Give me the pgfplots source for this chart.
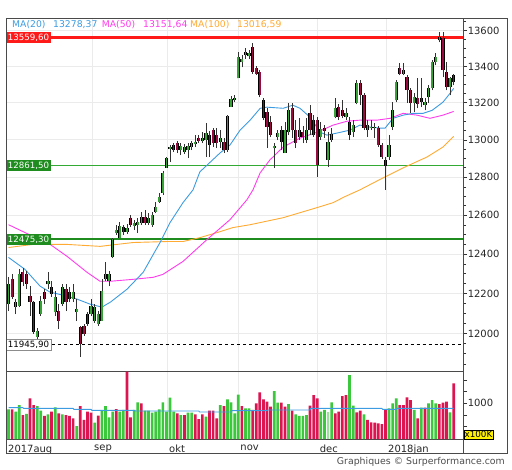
\documentclass[border=0pt]{standalone}
\usepackage{fontspec}
\setmainfont{DejaVu Sans}
\usepackage{pgfplots}
\pgfplotsset{compat=1.18}
\definecolor{candG}{HTML}{36A336}
\definecolor{candR}{HTML}{9A0A40}
\definecolor{volG}{HTML}{3CC83C}
\definecolor{volGl}{HTML}{9ADF9A}
\definecolor{volR}{HTML}{DC1450}
\definecolor{maA}{HTML}{3C9BE1}
\definecolor{maB}{HTML}{FF3CEB}
\definecolor{maC}{HTML}{FFAA32}
\definecolor{gridC}{HTML}{EBEBEB}
\definecolor{frameC}{HTML}{4A4A4A}
\definecolor{lvlG}{HTML}{1E8C1E}
\definecolor{lvlGl}{HTML}{33AA33}
\definecolor{lvlR}{HTML}{FF1A1A}
\newcommand{\tf}{\fontsize{10}{12}\selectfont}
\newcommand{\lf}{\fontsize{8.7}{10}\selectfont}
\newcommand{\gf}{\fontsize{9.3}{11}\selectfont}
% daily candles: index/open/high/low/close
\def\candles{0/12146/12281/12111/12246, 1/12271/12296/12171/12181, 2/12131/12171/12096/12156, 3/12136/12321/12131/12296,
4/12306/12331/12236/12256, 5/12296/12311/12221/12246, 6/12186/12236/12086/12156, 7/12156/12161/11998/12007,
8/11983/12027/11973/12012, 9/12096/12186/12086/12161, 10/12206/12221/12146/12171, 11/12246/12306/12221/12261,
12/12231/12261/12181/12196, 13/12106/12211/12086/12181, 14/12111/12146/12022/12061, 15/12146/12246/12136/12231,
16/12221/12246/12111/12156, 17/12206/12231/12156/12171, 18/12171/12246/12156/12206, 19/12106/12171/12061/12121,
20/12032/12037/11885/11946, 21/12037/12047/11988/11998, 22/12096/12106/12037/12047, 23/12096/12171/12086/12136,
24/12061/12146/12052/12131, 25/12047/12111/12037/12096, 26/12061/12271/12061/12211, 27/12271/12357/12261/12296,
28/12261/12311/12236/12296, 29/12383/12484/12378/12475, 30/12510/12551/12500/12525, 31/12484/12567/12484/12546,
32/12541/12551/12500/12515, 33/12515/12556/12505/12536, 34/12587/12603/12541/12551, 35/12546/12577/12525/12562,
36/12551/12587/12510/12567, 37/12562/12619/12551/12593, 38/12593/12629/12551/12562, 39/12562/12613/12551/12587,
40/12551/12619/12541/12603, 41/12619/12671/12613/12645, 42/12671/12717/12666/12697, 43/12717/12833/12707/12823,
44/12849/12907/12849/12901, 45/12949/12971/12880/12960, 46/12971/12981/12933/12944, 47/12981/12992/12928/12944,
48/12944/12981/12917/12965, 49/12933/12976/12923/12960, 50/12944/12981/12901/12965, 51/12960/12992/12944/12981,
52/12976/13024/12960/12987, 53/13008/13024/12981/12992, 54/12992/13040/12981/13008, 55/12997/13089/12907/13035,
56/13024/13046/12907/12971, 57/13051/13062/12960/12981, 58/13024/13062/12955/12981, 59/12987/13051/12955/13008,
60/12987/13008/12928/12944, 61/12944/13132/12933/13126, 62/13175/13235/13175/13218, 63/13213/13240/13202/13224,
64/13333/13477/13333/13449, 65/13421/13460/13394/13443, 66/13460/13499/13443/13477, 67/13454/13488/13443/13471,
68/13505/13527/13360/13366, 69/13388/13399/13350/13360, 70/13366/13377/13229/13240, 71/13213/13224/13105/13115,
72/13147/13169/12955/13067, 73/13094/13126/13013/13024, 74/12955/12981/12849/12965, 75/13013/13051/12997/13035,
76/13051/13073/12944/12987, 77/12928/13094/12928/13051, 78/13040/13197/13024/13158, 79/13169/13197/13008/13051,
80/13051/13105/12955/12981, 81/13013/13115/12997/13051, 82/13040/13073/12981/13013, 83/12997/13115/12981/13051,
84/13142/13186/13024/13051, 85/13105/13132/13013/13024, 86/13105/13121/12801/12862, 87/13013/13094/12997/13056,
88/13062/13078/13008/13046, 89/12891/13040/12854/12987, 90/12997/13062/12987/13030, 91/13121/13224/13115/13169,
92/13175/13191/13105/13121, 93/13158/13213/13115/13126, 94/13121/13169/13105/13142, 95/13094/13121/12997/13024,
96/13040/13105/13013/13078, 97/13197/13322/13191/13306, 98/13306/13322/13186/13240, 99/13240/13251/13051/13062,
100/13051/13105/13013/13078, 101/13062/13105/13051/13068, 102/13062/13089/13008/13068, 103/13062/13073/12960/12971,
104/12971/12981/12896/12907, 105/12891/12907/12733/12859, 106/12907/13024/12891/12971, 107/13067/13202/13051/13158,
108/13213/13322/13202/13311, 109/13388/13416/13350/13360, 110/13360/13416/13350/13377, 111/13339/13350/13197/13267,
112/13267/13279/13142/13197, 113/13197/13251/13147/13229, 114/13224/13333/13169/13191, 115/13224/13333/13175/13202,
116/13186/13224/13158/13202, 117/13229/13295/13197/13279, 118/13279/13432/13267/13421, 119/13421/13471/13405/13449,
120/13544/13590/13533/13560, 121/13555/13590/13339/13377, 122/13366/13421/13267/13284, 123/13284/13339/13240/13333,
124/13350/13360/13295/13311}
\begin{document}
\begin{tikzpicture}
\path[use as bounding box] (0,0) rectangle (512bp,470bp);
% ---------------- main price panel (logarithmic price scale) ----------------
\begin{axis}[
  at={(6bp,98.3bp)}, anchor=south west, scale only axis,
  width=457bp, height=353.7bp,
  y coord trafo/.code={\pgfmathparse{ln(#1)}},
  y coord inv trafo/.code={\pgfmathparse{exp(#1)}},
  xmin=-0.7, xmax=126.6, ymin=11812, ymax=13670,
  clip mode=individual,
  axis line style={draw=frameC, line width=0.9bp},
  xtick={23.26,44.15,64.0,86.1,105.15}, xticklabels={}, xtick style={draw=none},
  ytick={12000,12200,12400,12600,12800,13000,13200,13400,13600},
  yticklabels={12000,12200,12400,12600,12800,13000,13200,13400,13600},
  minor ytick={11850,11900,11950,12050,12100,12150,12250,12300,12350,12450,12500,12550,12650,12700,12750,12850,12900,12950,13050,13100,13150,13250,13300,13350,13450,13500,13550,13650},
  ytick pos=right, yticklabel pos=right, tick align=outside,
  major tick length=4bp, minor tick length=3bp,
  ytick style={draw=black!80, line width=0.6bp},
  grid=major, grid style={draw=gridC, line width=0.8bp},
  yticklabel style={font=\tf, text=black!85, inner xsep=0.6bp},
]
% level lines (closing levels)
\addplot[draw=lvlR, line width=2.2bp, no marks] coordinates {(-0.7,13559.6) (126.6,13559.6)};
\addplot[draw=lvlG, line width=2.2bp, no marks] coordinates {(-0.7,12475.3) (126.6,12475.3)};
\addplot[draw=black, line width=0.6bp, dashed, no marks] coordinates {(12.1,11945.9) (126.6,11945.9)};
\draw[draw=lvlGl, line width=1.6bp] (axis cs:-0.7,12861.5) -- (axis cs:126.6,12861.5);
% moving averages
\addplot[maC, line width=0.9bp] coordinates {(0,12433)(6.8,12449)(16.3,12449)(25.5,12439)(34.7,12459)(44.2,12464)(48.6,12464)(53.3,12484)(58.1,12510)(62.5,12536)(67.3,12551)(76.5,12587)(85.9,12640)(90.4,12666)(93.7,12697)(97.9,12733)(104.3,12796)(109.9,12849)(116.6,12907)(121,12960)(124,13017)};
\addplot[maB, line width=0.9bp] coordinates {(0,12551)(4.6,12510)(11.6,12449)(16.3,12388)(21.9,12306)(25.5,12261)(28.3,12261)(34.7,12271)(40.3,12281)(43,12296)(48.6,12362)(55.3,12474)(61.7,12577)(66.4,12681)(68.1,12733)(70.1,12823)(72.8,12891)(76.5,12960)(81.2,13008)(86,13040)(90.4,13078)(94.3,13099)(97.9,13105)(102.6,13105)(106.3,13115)(109.9,13142)(113.8,13132)(117.4,13115)(121,13132)(124,13152)};
\addplot[maA, line width=0.9bp] coordinates {(0,12382)(4.6,12321)(8.8,12236)(11.6,12206)(16.3,12186)(19.1,12171)(22.7,12146)(26,12131)(28.4,12156)(33,12221)(37.5,12306)(42.2,12459)(45,12562)(48.6,12666)(51.4,12733)(53.3,12828)(58.9,12928)(61.7,12971)(64.5,13051)(67.3,13105)(70.1,13169)(72,13175)(76.5,13169)(79.2,13186)(81.2,13169)(84,13121)(86.8,13040)(88.7,13024)(91.5,13035)(95.1,13051)(97.9,13078)(100.7,13067)(103.5,13062)(104.9,13062)(107.1,13115)(109.9,13132)(112.7,13142)(115.5,13142)(118,13158)(121,13202)(123,13251)(124,13278)};
% candles
\foreach \ci/\co/\ch/\cl/\cc in \candles {
  \ifdim\cc pt>\co pt \def\bc{candG}\else\def\bc{candR}\fi
  \edef\temp{\noexpand\addplot[black!80, line width=0.7bp, forget plot] coordinates {(\ci,\cl)(\ci,\ch)};
    \noexpand\addplot[\bc, line width=1.6bp, preaction={draw=black, line width=3.2bp}, forget plot] coordinates {(\ci,\co)(\ci,\cc)};}
  \temp
}
% level labels
\node[fill=lvlR, text=white, font=\lf, anchor=west, inner xsep=1.6bp, inner ysep=0bp, minimum height=11bp] at (axis cs:-0.7,13559.6) {13559,60};
\node[fill=lvlG, text=white, font=\lf, anchor=west, inner xsep=1.6bp, inner ysep=0bp, minimum height=11bp] at (axis cs:-0.7,12861.5) {12861,50};
\node[fill=lvlG, text=white, font=\lf, anchor=west, inner xsep=1.6bp, inner ysep=0bp, minimum height=11bp] at (axis cs:-0.7,12475.3) {12475,30};
\node[fill=white, draw=black!45, text=black, font=\lf, anchor=west, inner xsep=1.6bp, inner ysep=0bp, minimum height=11bp] at (axis cs:-0.7,11945.9) {11945,90};
\end{axis}
% ---------------- volume panel ----------------
\begin{axis}[
  at={(6bp,31bp)}, anchor=south west, scale only axis,
  width=457bp, height=67.3bp,
  xmin=-0.7, xmax=126.6, ymin=234, ymax=1679,
  axis line style={draw=frameC, line width=0.9bp},
  xtick={-0.7,23.26,44.15,64.0,86.1,105.15},
  xticklabels={2017aug,sep,okt,nov,dec,2018jan},
  xtick style={draw=none}, xmajorgrids, grid style={draw=gridC, line width=0.8bp},
  xticklabel style={font=\tf, text=black!85, anchor=north west, inner sep=0pt, xshift=2bp, yshift=-2bp},
  ytick={500,750,1000,1250,1500}, yticklabels={,,1000,,},
  ytick pos=right, yticklabel pos=right, tick align=outside, major tick length=4bp,
  ytick style={draw=black!80, line width=0.6bp},
  yticklabel style={font=\tf, text=black!85, inner xsep=0.6bp},
]
\addplot[ybar, bar width=2.7bp, bar shift=0pt, fill=volG, draw=none] coordinates {(0,871)(2,821)(3,964)(5,771)(8,942)(9,842)(11,764)(13,914)(15,764)(19,513)(24,585)(26,842)(27,942)(28,699)(29,821)(31,821)(32,857)(35,857)(36,1021)(38,842)(39,842)(40,799)(41,821)(42,871)(43,1021)(44,821)(45,1121)(46,821)(48,749)(50,799)(51,799)(55,714)(59,964)(61,1085)(62,1021)(63,785)(64,1185)(66,892)(67,892)(74,1264)(75,1014)(78,985)(80,764)(81,728)(82,728)(83,749)(87,821)(88,857)(90,1021)(95,1607)(96,949)(99,764)(106,892)(107,1000)(108,1107)(113,857)(115,907)(117,1000)(118,1071)(119,1000)(123,806)};
\addplot[ybar, bar width=2.7bp, bar shift=0pt, fill=volGl, draw=none] coordinates {(89,806)};
\addplot[ybar, bar width=2.7bp, bar shift=0pt, fill=volR, draw=none] coordinates {(1,871)(4,749)(6,1107)(7,964)(10,728)(12,821)(14,785)(16,749)(17,728)(18,678)(20,942)(21,642)(22,821)(23,799)(25,735)(30,878)(33,1679)(34,699)(37,1000)(47,785)(49,749)(52,764)(53,663)(54,764)(56,842)(57,842)(58,678)(60,942)(65,942)(68,857)(69,1000)(70,1235)(71,1085)(72,1035)(73,928)(76,1014)(77,928)(79,842)(84,949)(85,1178)(86,1107)(91,785)(92,821)(93,1157)(94,1178)(97,806)(98,842)(100,642)(101,592)(102,585)(103,571)(104,556)(105,878)(109,964)(110,964)(111,1128)(112,1071)(114,678)(116,907)(120,985)(121,1014)(122,1035)(124,1429)};
\addplot[maA, line width=0.9bp] coordinates {(0,907)(4,907)(4.2,892)(18,892)(18.2,871)(23,871)(23.2,850)(35,850)(35.2,835)(53,835)(53.2,814)(62,814)(62.2,842)(72,842)(72.2,857)(84,857)(84.2,892)(104,892)(104.2,871)(108,871)(108.2,892)(124,892)};
\end{axis}
% frame and decorations
\draw[frameC, line width=0.9bp] (6bp,17bp) rectangle (507bp,452bp);
\draw[frameC, line width=0.9bp] (463bp,17bp) -- (463bp,31bp);
\node[draw=black, fill=yellow, anchor=north west, inner xsep=0.8bp, inner ysep=1bp, line width=0.6bp, font=\fontsize{8.8}{10}\selectfont] at (463.5bp,40bp) {x100K};
% moving-average legend
\node[anchor=west, inner sep=0pt, text=maA, font=\gf] at (12bp,445bp) {MA(20)};
\node[anchor=west, inner sep=0pt, text=maA, font=\gf] at (53bp,445bp) {13278,37};
\node[anchor=west, inner sep=0pt, text=maB, font=\gf] at (101.7bp,445bp) {MA(50)};
\node[anchor=west, inner sep=0pt, text=maB, font=\gf] at (143bp,445bp) {13151,64};
\node[anchor=west, inner sep=0pt, text=maC, font=\gf] at (190bp,445bp) {MA(100)};
\node[anchor=west, inner sep=0pt, text=maC, font=\gf] at (237bp,445bp) {13016,59};
\node[anchor=east, inner sep=0pt, text=black!70, font=\fontsize{9.4}{11}\selectfont] at (505bp,8.5bp) {Graphiques © Surperformance.com};
\end{tikzpicture}
\end{document}
